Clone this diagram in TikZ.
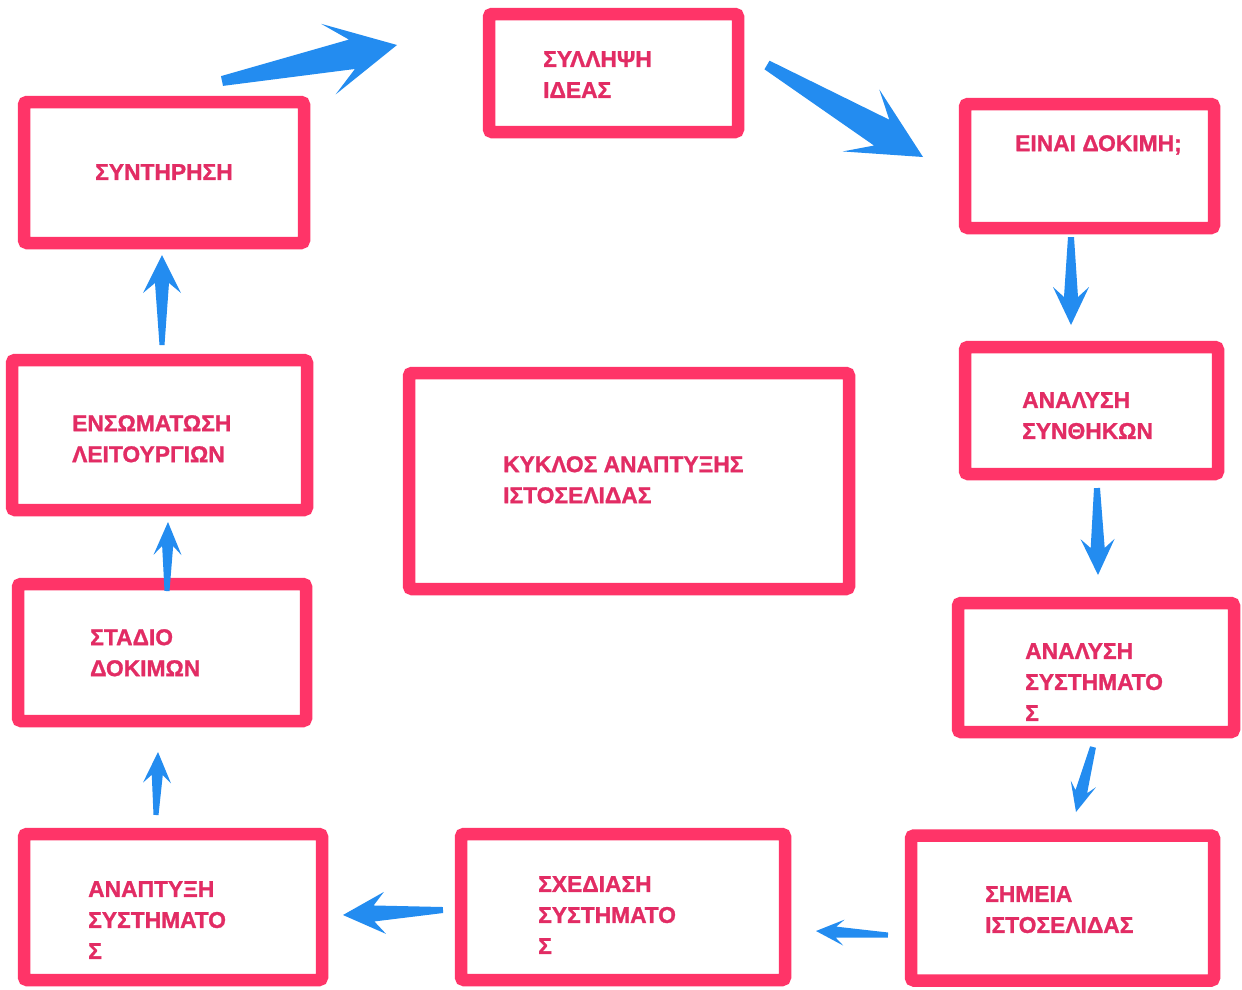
\documentclass[tikz,border=0pt]{standalone}
\usepackage{fontspec}
\setmainfont{Liberation Sans}
\newfontfamily\lblfont[BoldFeatures={FakeBold=1.2}]{Liberation Sans}
\usetikzlibrary{calc}
\definecolor{boxpink}{RGB}{255,52,104}
\definecolor{txtpink}{RGB}{226,44,100}
\definecolor{arrblue}{RGB}{35,140,240}
% #1 tail, #2 tip, #3 barb distance, #4 notch distance, #5 barb half width, #6 shaft half width at head, #7 tail half width
\newcommand\fatarrow[7]{%
  \fill[arrblue, line join=round]
    (#2) -- ($(#2)!#3pt!(#1)!#5pt!90:(#2)$)
    -- ($(#2)!#4pt!(#1)!#6pt!90:(#2)$)
    -- ($(#1)!#7pt!90:(#2)$)
    -- ($(#1)!#7pt!-90:(#2)$)
    -- ($(#2)!#4pt!(#1)!#6pt!-90:(#2)$)
    -- ($(#2)!#3pt!(#1)!#5pt!-90:(#2)$)
    -- cycle;}
\begin{document}
\begin{tikzpicture}[x=1pt,y=-1pt,
  box/.style={draw=boxpink, line width=12.5pt, rounded corners=3pt, fill=white, inner sep=0pt, outer sep=0pt},
  lbl/.style={anchor=north west, inner sep=0pt, align=left, text=txtpink, font=\lblfont\fontsize{22.8}{31}\selectfont\bfseries}]
\useasboundingbox[fill=white] (0,0) rectangle (1242,989);

% boxes
\node[box, minimum width=249pt, minimum height=118pt] (syl) at (613.5,73) {};
\node[box, minimum width=249pt, minimum height=124pt] (einai) at (1089.5,166) {};
\node[box, minimum width=253pt, minimum height=127pt] (synth) at (1091.5,410.5) {};
\node[box, minimum width=276pt, minimum height=129pt] (analsys) at (1096,667.5) {};
\node[box, minimum width=303pt, minimum height=145pt] (simeia) at (1062.5,908) {};
\node[box, minimum width=324pt, minimum height=146pt] (sxed) at (623,907) {};
\node[box, minimum width=298pt, minimum height=146pt] (anapt) at (173,907) {};
\node[box, minimum width=288pt, minimum height=137pt] (stadio) at (162,652.5) {};
\node[box, minimum width=295pt, minimum height=150pt] (ensom) at (159.5,435) {};
\node[box, minimum width=280pt, minimum height=141pt] (synt) at (164,172.5) {};
\node[box, minimum width=440pt, minimum height=216pt] (kyklos) at (629,481) {};

% labels
\node[lbl] (tsyl) at (543,51) {ΣΥΛΛΗΨΗ\\ΙΔΕΑΣ};
\node[lbl] (teinai) at (1015,135) {ΕΙΝΑΙ ΔΟΚΙΜΗ;};
\node[lbl] (tsynth) at (1022,392) {ΑΝΑΛΥΣΗ\\ΣΥΝΘΗΚΩΝ};
\node[lbl] (tanalsys) at (1025,643) {ΑΝΑΛΥΣΗ\\ΣΥΣΤΗΜΑΤΟ\\Σ};
\node[lbl] (tsimeia) at (985,886) {ΣΗΜΕΙΑ\\ΙΣΤΟΣΕΛΙΔΑΣ};
\node[lbl] (tsxed) at (538,876) {ΣΧΕΔΙΑΣΗ\\ΣΥΣΤΗΜΑΤΟ\\Σ};
\node[lbl] (tanapt) at (88,881) {ΑΝΑΠΤΥΞΗ\\ΣΥΣΤΗΜΑΤΟ\\Σ};
\node[lbl] (tstadio) at (90,629) {ΣΤΑΔΙΟ\\ΔΟΚΙΜΩΝ};
\node[lbl] (tensom) at (72,415) {ΕΝΣΩΜΑΤΩΣΗ\\ΛΕΙΤΟΥΡΓΙΩΝ};
\node[lbl] (tsynt) at (95,164) {ΣΥΝΤΗΡΗΣΗ};
\node[lbl] (tkyklos) at (503,456) {ΚΥΚΛΟΣ ΑΝΑΠΤΥΞΗΣ\\ΙΣΤΟΣΕΛΙΔΑΣ};

% arrow end points
\coordinate (a1t) at (222,81);   \coordinate (a1h) at (397,45);
\coordinate (a2t) at (767,65);   \coordinate (a2h) at (923,157);
\coordinate (a3t) at (1071,237); \coordinate (a3h) at (1071,325);
\coordinate (a4t) at (1097,488); \coordinate (a4h) at (1098,575);
\coordinate (a5t) at (1093,747); \coordinate (a5h) at (1076,812);
\coordinate (a6t) at (888,935);  \coordinate (a6h) at (816,931);
\coordinate (a7t) at (443,910);  \coordinate (a7h) at (343,915);
\coordinate (a8t) at (156,815);  \coordinate (a8h) at (158,752);
\coordinate (a9t) at (167,591);  \coordinate (a9h) at (168,522);
\coordinate (a10t) at (162,345); \coordinate (a10h) at (162,255);

% arrows
\fatarrow{a1t}{a1h}{70}{46}{36}{15}{5}
\fatarrow{a2t}{a2h}{72}{48}{36}{15}{5}
\fatarrow{a3t}{a3h}{38}{28}{18}{7}{3}
\fatarrow{a4t}{a4h}{36}{27}{17}{7}{3}
\fatarrow{a5t}{a5h}{29}{21}{13}{6}{3}
\fatarrow{a6t}{a6h}{28}{20}{13}{5.5}{2.5}
\fatarrow{a7t}{a7h}{42}{31}{21}{8}{3}
\fatarrow{a8t}{a8h}{31}{23}{14}{5.5}{2.5}
\fatarrow{a9t}{a9h}{33}{24}{14}{5.5}{2.5}
\fatarrow{a10t}{a10h}{38}{28}{19}{7}{2.5}
\end{tikzpicture}
\end{document}
